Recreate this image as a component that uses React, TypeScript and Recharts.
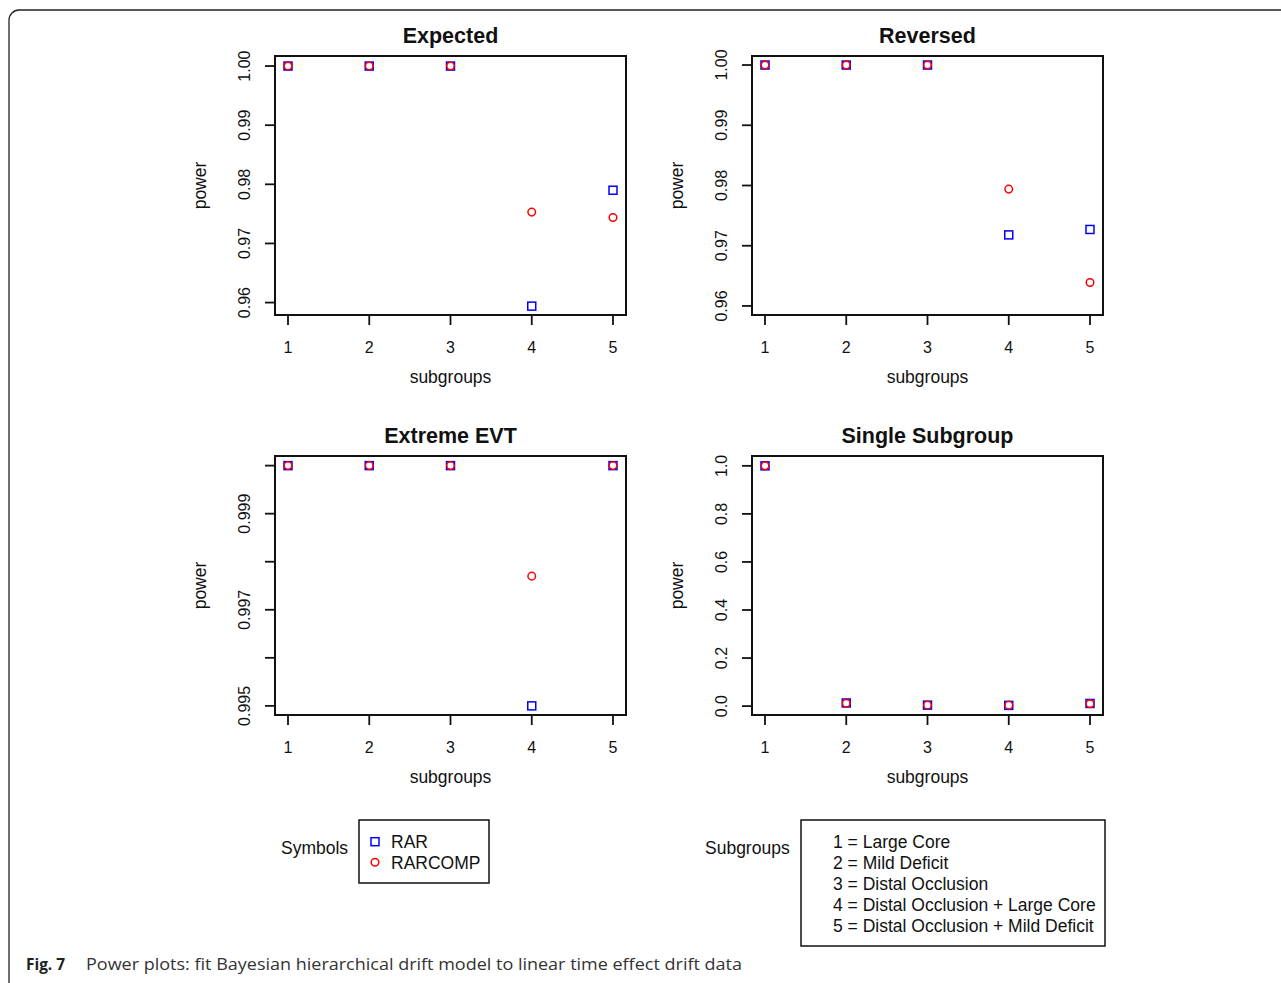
import React from 'react';
import { ScatterChart, Scatter, XAxis, YAxis, Label, ReferenceArea } from 'recharts';

// subgroup index on the x axis
const subgroups = [1, 2, 3, 4, 5];

// power per subgroup
const expectedRar = [1.0, 1.0, 1.0, 0.9594, 0.979];
const expectedRarcomp = [1.0, 1.0, 1.0, 0.9753, 0.9744];
const reversedRar = [1.0, 1.0, 1.0, 0.9718, 0.9727];
const reversedRarcomp = [1.0, 1.0, 1.0, 0.9794, 0.9639];
const extremeRar = [1.0, 1.0, 1.0, 0.995, 1.0];
const extremeRarcomp = [1.0, 1.0, 1.0, 0.9977, 1.0];
const singleRar = [1.0, 0.013, 0.004, 0.003, 0.011];
const singleRarcomp = [1.0, 0.012, 0.004, 0.004, 0.01];

const ticksHundredths = [0.96, 0.97, 0.98, 0.99, 1.0];
const ticksExtreme = [0.995, 0.996, 0.997, 0.998, 0.999, 1.0];
const ticksSingle = [0, 0.2, 0.4, 0.6, 0.8, 1.0];

const symbolNames = ['RAR', 'RARCOMP'];
const subgroupNames = [
  'Large Core',
  'Mild Deficit',
  'Distal Occlusion',
  'Distal Occlusion + Large Core',
  'Distal Occlusion + Mild Deficit',
];

const FONT = '"Liberation Sans", Arial, Helvetica, sans-serif';
const INK = '#111';
const BLUE = '#0000ff';
const RED = '#ff0000';
const X_DOMAIN: [number, number] = [0.84, 5.16];
const PLOT_H = 259;

const toPoints = (vals: number[]) => subgroups.map((s, i) => ({ x: s, y: vals[i] }));

const Square = ({ cx, cy }: any) => (
  <rect x={cx - 4} y={cy - 4} width={8} height={8} fill="none" stroke={BLUE} strokeWidth={1.5} />
);
const Circle = ({ cx, cy }: any) => (
  <circle cx={cx} cy={cy} r={3.8} fill="none" stroke={RED} strokeWidth={1.5} />
);

type PanelProps = {
  title: string;
  rar: number[];
  rarcomp: number[];
  domain: [number, number];
  ticks: number[];
  fmt: (v: number) => string;
  left: number;
  top: number;
};

const Panel: React.FC<PanelProps> = ({ title, rar, rarcomp, domain, ticks, fmt, left, top }) => {
  const YTick = (p: any) => (
    <text
      x={p.x}
      y={p.y}
      transform={`rotate(-90 ${p.x} ${p.y})`}
      textAnchor="middle"
      fontSize={16}
      fontFamily={FONT}
      fill={INK}
    >
      {fmt(p.payload.value)}
    </text>
  );

  return (
    <div style={{ position: 'absolute', left, top }}>
      <ScatterChart width={466} height={395} margin={{ top: 56, right: 20, bottom: 0, left: 0 }}>
        <XAxis
          xAxisId="b"
          type="number"
          dataKey="x"
          domain={X_DOMAIN}
          ticks={subgroups}
          allowDataOverflow
          height={80}
          tickSize={10}
          tickMargin={17}
          axisLine={{ stroke: INK, strokeWidth: 2 }}
          tickLine={{ stroke: INK, strokeWidth: 1.8 }}
          tick={{ fontSize: 16, fontFamily: FONT, fill: INK }}
        >
          <Label
            content={(lp: any) => {
              const vb = lp.viewBox;
              const cx = vb.x + vb.width / 2;
              return (
                <g>
                  <text x={cx} y={vb.y + 68} textAnchor="middle" fontSize={17.5} fontFamily={FONT} fill={INK}>
                    subgroups
                  </text>
                  <text
                    x={cx}
                    y={vb.y - PLOT_H - 13.5}
                    textAnchor="middle"
                    fontSize={21.5}
                    fontWeight="bold"
                    fontFamily={FONT}
                    fill={INK}
                  >
                    {title}
                  </text>
                </g>
              );
            }}
          />
        </XAxis>
        <YAxis
          yAxisId="l"
          type="number"
          dataKey="y"
          domain={domain}
          ticks={ticks}
          allowDataOverflow
          width={95}
          tickSize={10}
          tickMargin={15}
          axisLine={{ stroke: INK, strokeWidth: 2 }}
          tickLine={{ stroke: INK, strokeWidth: 1.8 }}
          tick={YTick}
          interval={0}
        >
          <Label
            content={(lp: any) => {
              const vb = lp.viewBox;
              const x = vb.x + 26;
              const y = vb.y + vb.height / 2;
              return (
                <text x={x} y={y} transform={`rotate(-90 ${x} ${y})`} textAnchor="middle" fontSize={17.5} fontFamily={FONT} fill={INK}>
                  power
                </text>
              );
            }}
          />
        </YAxis>
        {/* plot frame (R's box()) */}
        <ReferenceArea
          xAxisId="b"
          yAxisId="l"
          x1={X_DOMAIN[0]}
          x2={X_DOMAIN[1]}
          y1={domain[0]}
          y2={domain[1]}
          fill="none"
          fillOpacity={0}
          stroke={INK}
          strokeWidth={2}
          ifOverflow="visible"
        />
        <Scatter xAxisId="b" yAxisId="l" name="RAR" data={toPoints(rar)} shape={Square} isAnimationActive={false} />
        <Scatter xAxisId="b" yAxisId="l" name="RARCOMP" data={toPoints(rarcomp)} shape={Circle} isAnimationActive={false} />
      </ScatterChart>
    </div>
  );
};

const fmt2 = (v: number) => v.toFixed(2);
const fmtExtreme = (v: number) => (Math.round(v * 1000) % 2 === 1 ? v.toFixed(3) : '');
const fmt1 = (v: number) => v.toFixed(1);

export default function App() {
  const txt = { fontSize: 17.5, fontFamily: FONT, fill: INK };
  return (
    <div style={{ position: 'absolute', left: 0, top: 0, width: 1281, height: 983, background: '#fff', overflow: 'hidden' }}>
      <Panel title="Expected" rar={expectedRar} rarcomp={expectedRarcomp} domain={[0.9579, 1.0017]} ticks={ticksHundredths} fmt={fmt2} left={180} top={0} />
      <Panel title="Reversed" rar={reversedRar} rarcomp={reversedRarcomp} domain={[0.9585, 1.0015]} ticks={ticksHundredths} fmt={fmt2} left={657} top={0} />
      <Panel title="Extreme EVT" rar={extremeRar} rarcomp={extremeRarcomp} domain={[0.99481, 1.0002]} ticks={ticksExtreme} fmt={fmtExtreme} left={180} top={400} />
      <Panel title="Single Subgroup" rar={singleRar} rarcomp={singleRarcomp} domain={[-0.037, 1.041]} ticks={ticksSingle} fmt={fmt1} left={657} top={400} />

      <svg width={1281} height={983} style={{ position: 'absolute', left: 0, top: 0, pointerEvents: 'none' }}>
        {/* page frame */}
        <path d="M9,983 V20 A10,10 0 0 1 19,10 H1281" fill="none" stroke="#222" strokeWidth={1.3} />

        {/* symbols legend */}
        <text x={281} y={854} {...txt}>Symbols</text>
        <rect x={359} y={820} width={130} height={63} fill="none" stroke={INK} strokeWidth={1.5} />
        {symbolNames.map((name, i) => {
          const cy = 841.7 + i * 20.6;
          return (
            <g key={name}>
              {i === 0 ? <Square cx={375} cy={cy} /> : <Circle cx={375} cy={cy} />}
              <text x={391} y={cy + 6.3} {...txt}>{name}</text>
            </g>
          );
        })}

        {/* subgroups legend */}
        <text x={705} y={854} {...txt}>Subgroups</text>
        <rect x={801} y={820} width={304} height={126} fill="none" stroke={INK} strokeWidth={1.5} />
        {subgroupNames.map((name, i) => (
          <text key={name} x={833} y={848 + i * 21.1} {...txt}>
            {`${subgroups[i]} = ${name}`}
          </text>
        ))}

        {/* caption */}
        <text x={26} y={970} fontSize={15.5} fontWeight="bold" fontFamily='"Open Sans", sans-serif' fill="#222" textLength={39} lengthAdjust="spacingAndGlyphs">
          Fig. 7
        </text>
        <text x={86} y={970} fontSize={15.5} fontFamily='"Open Sans", sans-serif' fill="#333" textLength={656} lengthAdjust="spacingAndGlyphs">
          Power plots: fit Bayesian hierarchical drift model to linear time effect drift data
        </text>
      </svg>
    </div>
  );
}
